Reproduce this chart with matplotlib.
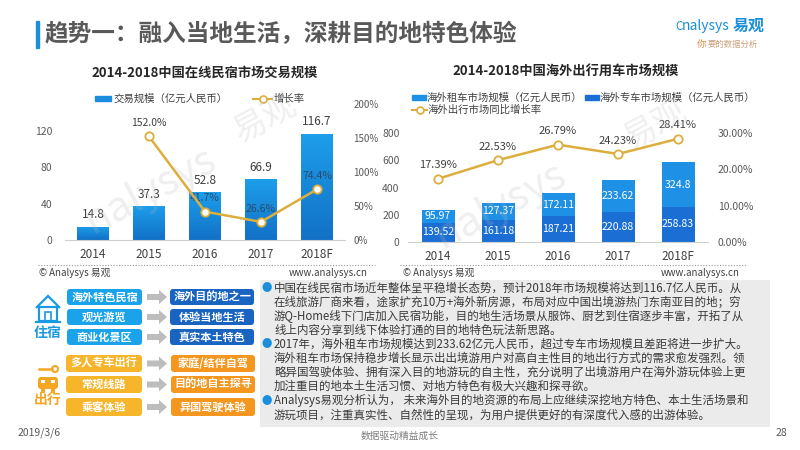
import matplotlib
matplotlib.use('Agg')
import matplotlib.pyplot as plt
import numpy as np
from matplotlib.patches import FancyBboxPatch, Rectangle, Polygon, Circle
from matplotlib.colors import LinearSegmentedColormap

plt.rcParams['font.family'] = ['Noto Sans CJK SC', 'DejaVu Sans']

# ---------------- data ----------------
years = ['2014', '2015', '2016', '2017', '2018F']
homestay_scale = [14.8, 37.3, 52.8, 66.9, 116.7]
homestay_growth = [None, 152.0, 41.7, 26.6, 74.4]
rental_scale = [95.97, 127.37, 172.11, 233.62, 324.8]
chauffeur_scale = [139.52, 161.18, 187.21, 220.88, 258.83]
car_growth = [17.39, 22.53, 26.79, 24.23, 28.41]
rental_labels = ['95.97', '127.37', '172.11', '233.62', '324.8']
chauffeur_labels = ['139.52', '161.18', '187.21', '220.88', '258.83']
left_ticks = [0, 40, 80, 120]
left_rticks = [0, 50, 100, 150, 200]
right_ticks = [0, 200, 400, 600, 800]
right_rticks = [0, 10, 20, 30]

title = '趋势一：融入当地生活，深耕目的地特色体验'
chart1_title = '2014-2018中国在线民宿市场交易规模'
chart2_title = '2014-2018中国海外出行用车市场规模'
stay_left = ['海外特色民宿', '观光游览', '商业化景区']
stay_right = ['海外目的地之一', '体验当地生活', '真实本土特色']
trip_left = ['多人专车出行', '常规线路', '乘客体验']
trip_right = ['家庭/结伴自驾', '目的地自主探寻', '异国驾驶体验']
body_lines = [
    ('●', '中国在线民宿市场近年整体呈平稳增长态势，预计2018年市场规模将达到116.7亿人民币。从'),
    ('', '在线旅游厂商来看，途家扩充10万+海外新房源，布局对应中国出境游热门东南亚目的地；穷'),
    ('', '游Q-Home线下门店加入民宿功能，目的地生活场景从服饰、厨艺到住宿逐步丰富，开拓了从'),
    ('', '线上内容分享到线下体验打通的目的地特色玩法新思路。'),
    ('●', '2017年，海外租车市场规模达到233.62亿元人民币，超过专车市场规模且差距将进一步扩大。'),
    ('', '海外租车市场保持稳步增长显示出出境游用户对高自主性目的地出行方式的需求愈发强烈。领'),
    ('', '略异国驾驶体验、拥有深入目的地游玩的自主性，充分说明了出境游用户在海外游玩体验上更'),
    ('', '加注重目的地本土生活习惯、对地方特色有极大兴趣和探寻欲。'),
    ('●', 'Analysys易观分析认为， 未来海外目的地资源的布局上应继续深挖地方特色、本土生活场景和'),
    ('', '游玩项目，注重真实性、自然性的呈现，为用户提供更好的有深度代入感的出游体验。'),
]

# ---------------- figure ----------------
W, H = 800, 450
fig = plt.figure(figsize=(8, 4.5), dpi=100)


def ax_rect(l, t, r, b):
    return [l / W, 1 - b / H, (r - l) / W, (b - t) / H]


bg = fig.add_axes([0, 0, 1, 1])
bg.set_xlim(0, W)
bg.set_ylim(H, 0)
bg.axis('off')

DARK = '#404040'
GRAY = '#595959'
GOLD = '#dcae3c'
BLUE_L = '#1e90e6'
BLUE_D = '#1b6fd4'

# title
bg.add_patch(Rectangle((36, 21), 3, 27, color='#1a8fdc'))
bg.text(45, 34, title, fontsize=17, fontweight='bold', color=GRAY, va='center')

# logo
bg.text(682, 26, 'nalysys', fontsize=10, style='italic', color='#1a8fdc', va='center')
bg.text(675, 26, 'C', fontsize=8.5, color='#1a8fdc', va='center')
bg.text(733, 26, '易观', fontsize=11.5, fontweight='bold', color='#1a8fdc', va='center')
bg.text(697, 44, '你', fontsize=7, style='italic', color='#e8884a', va='center')
bg.text(708, 44, '要的数据分析', fontsize=6, style='italic', color='#c9a27a', va='center')

# ---------------- chart 1 ----------------
bg.text(205, 73, chart1_title, ha='center', va='center', fontsize=9.5,
        fontweight='bold', color='#262626')
bg.add_patch(Rectangle((95, 96), 16, 5, color='#1a8ddf'))
bg.text(113, 98.5, '交易规模（亿元人民币）', fontsize=7.5, color=DARK, va='center')
bg.plot([253, 272], [98.5, 98.5], color=GOLD, lw=1.5)
bg.plot([262.5], [98.5], 'o', ms=5, mfc='white', mec=GOLD, mew=1.2)
bg.text(274, 98.5, '增长率', fontsize=7.5, color=DARK, va='center')

ax1 = fig.add_axes(ax_rect(65, 103.8, 345, 240))
ax1.patch.set_alpha(0)
x = np.arange(len(years))
bars = ax1.bar(x, homestay_scale, width=0.57, color='#1a8ddf', zorder=2)
cmap = LinearSegmentedColormap.from_list('g', ['#1271c6', '#1d9eea'])
grad = np.linspace(0, 1, 100).reshape(-1, 1)
for b in bars:
    im = ax1.imshow(grad, extent=[b.get_x(), b.get_x() + b.get_width(), 0, b.get_height()],
                    origin='lower', cmap=cmap, aspect='auto', zorder=2.1)
    im.set_clip_path(b)
for i, v in enumerate(homestay_scale):
    ax1.annotate(f'{v}', (i, v), xytext=(0, 4), textcoords='offset points',
                 ha='center', va='bottom', fontsize=8.5, color=DARK)
ax1.set_xlim(-0.5, len(years) - 0.5)
ax1.set_ylim(0, 150)
ax1.set_yticks(left_ticks)
ax1.set_xticks(x)
ax1.set_xticklabels(years)
for s in ['top', 'left', 'right']:
    ax1.spines[s].set_visible(False)
ax1.spines['bottom'].set_color('#d0d0d0')
ax1.tick_params(axis='y', length=0, pad=9, labelsize=7.5, labelcolor=GRAY)
ax1.tick_params(axis='x', length=0, pad=6, labelsize=8.5, labelcolor=DARK)

ax1r = ax1.twinx()
gx = [i for i, g in enumerate(homestay_growth) if g is not None]
gy = [g for g in homestay_growth if g is not None]
ax1r.plot(gx, gy, color=GOLD, lw=1.8, marker='o', ms=6, mfc='white', mec=GOLD,
          mew=1.3, zorder=4)
for i, g in zip(gx, gy):
    ax1r.annotate(f'{g:.1f}%', (i, g), xytext=(0, 6), textcoords='offset points',
                  ha='center', va='bottom', fontsize=7.5,
                  color=DARK if g > 100 else '#2c4a6e')
ax1r.set_ylim(0, 200)
ax1r.set_yticks(left_rticks)
ax1r.set_yticklabels([f'{t}%' for t in left_rticks])
for s in ['top', 'left', 'right', 'bottom']:
    ax1r.spines[s].set_visible(False)
ax1r.tick_params(axis='y', length=0, pad=6, labelsize=7, labelcolor=GRAY)

bg.plot([38, 375], [264.5, 264.5], ls=(0, (1, 1.5)), color='#9a9a9a', lw=0.8)
bg.text(39, 273.5, '© Analysys 易观', fontsize=7, color=DARK, va='center')
bg.text(368, 272.5, 'www.analysys.cn', fontsize=7, color=DARK, va='center', ha='right')

# ---------------- chart 2 ----------------
bg.text(566, 72, chart2_title, ha='center', va='center', fontsize=9.5,
        fontweight='bold', color='#262626')
bg.add_patch(Rectangle((412, 95), 14, 5, color=BLUE_L))
bg.text(427, 97.5, '海外租车市场规模（亿元人民币）', fontsize=7.5, color=DARK, va='center')
bg.add_patch(Rectangle((585, 95), 14, 5, color=BLUE_D))
bg.text(600, 97.5, '海外专车市场规模（亿元人民币）', fontsize=7.5, color=DARK, va='center')
bg.plot([412, 427], [110, 110], color=GOLD, lw=1.5)
bg.plot([419.5], [110], 'o', ms=5, mfc='white', mec=GOLD, mew=1.2)
bg.text(428, 110, '海外出行市场同比增长率', fontsize=7.5, color=DARK, va='center')

ax2 = fig.add_axes(ax_rect(408, 133, 708, 242))
ax2.patch.set_alpha(0)
b_low = ax2.bar(x, chauffeur_scale, width=0.55, color=BLUE_D, zorder=2)
b_up = ax2.bar(x, rental_scale, width=0.55, bottom=chauffeur_scale, color=BLUE_L, zorder=2)
for i in range(len(years)):
    ax2.text(i, chauffeur_scale[i] / 2, chauffeur_labels[i], ha='center',
             va='center', fontsize=7.6, color='white', zorder=3)
    ax2.text(i, chauffeur_scale[i] + rental_scale[i] / 2, rental_labels[i],
             ha='center', va='center', fontsize=7.6, color='white', zorder=3)
ax2.set_xlim(-0.5, len(years) - 0.5)
ax2.set_ylim(0, 800)
ax2.set_yticks(right_ticks)
ax2.set_xticks(x)
ax2.set_xticklabels(years)
for s in ['top', 'left', 'right']:
    ax2.spines[s].set_visible(False)
ax2.spines['bottom'].set_color('#d0d0d0')
ax2.tick_params(axis='y', length=0, pad=6, labelsize=7.5, labelcolor=GRAY)
ax2.tick_params(axis='x', length=0, pad=6, labelsize=8.5, labelcolor=DARK)

ax2r = ax2.twinx()
ax2r.plot(x, car_growth, color=GOLD, lw=1.8, marker='o', ms=6, mfc='white', mec=GOLD,
          mew=1.3, zorder=4)
for i, g in enumerate(car_growth):
    ax2r.annotate(f'{g:.2f}%', (i, g), xytext=(0, 6), textcoords='offset points',
                  ha='center', va='bottom', fontsize=8, color=DARK)
ax2r.set_ylim(0, 30)
ax2r.set_yticks(right_rticks)
ax2r.set_yticklabels([f'{t:.2f}%' for t in right_rticks])
for s in ['top', 'left', 'right', 'bottom']:
    ax2r.spines[s].set_visible(False)
ax2r.tick_params(axis='y', length=0, pad=7, labelsize=7.5, labelcolor=GRAY)

bg.plot([400, 746], [264.5, 264.5], ls=(0, (1, 1.5)), color='#9a9a9a', lw=0.8)
bg.text(403, 272.5, '© Analysys 易观', fontsize=7, color=DARK, va='center')
bg.text(740, 272.5, 'www.analysys.cn', fontsize=7, color=DARK, va='center', ha='right')

# watermarks
for (px, py, txt, fs) in [(150, 190, 'nalysys', 30), (265, 118, '易观', 24),
                          (500, 205, 'nalysys', 30), (655, 125, '易观', 24)]:
    fig.text(px / W, 1 - py / H, txt, fontsize=fs, rotation=28, color='#b8b8b8',
             alpha=0.22, ha='center', va='center', zorder=10)

# ---------------- infographic ----------------
def box(x0, y0, x1, y1, color, txt):
    bg.add_patch(FancyBboxPatch((x0, y0), x1 - x0, y1 - y0,
                                boxstyle='round,pad=0,rounding_size=3',
                                fc=color, ec='none'))
    bg.text((x0 + x1) / 2, (y0 + y1) / 2, txt, ha='center', va='center',
            fontsize=8, fontweight='bold', color='white')


def arrow(y):
    bg.add_patch(Polygon([[147, y - 3], [159, y - 3], [159, y - 7], [167, y],
                          [159, y + 7], [159, y + 3], [147, y + 3]],
                         closed=True, fc='#bdbdbd', ec='none'))


stay_rows = [(289, 305), (309, 325), (329, 345)]
for (t, b_), l, r in zip(stay_rows, stay_left, stay_right):
    box(67, t, 142, b_, '#1aa3ea', l)
    arrow((t + b_) / 2)
    box(170, t, 254, b_, '#1864c0', r)
trip_rows = [(355, 372), (376, 393), (398, 416)]
for (t, b_), l, r in zip(trip_rows, trip_left, trip_right):
    box(66, t, 142, b_, '#f7b52c', l)
    arrow((t + b_) / 2)
    box(171, t, 255, b_, '#f5961f', r)

# house icon
IC = '#1a9ae0'
bg.add_patch(Polygon([[36, 308], [48, 296], [60, 308]], closed=False, fill=False,
                     ec=IC, lw=1.6))
bg.add_patch(Rectangle((39, 307), 18, 14, fill=False, ec=IC, lw=1.6))
bg.add_patch(Rectangle((45, 312), 6, 9, fill=False, ec=IC, lw=1.2))
bg.plot([36, 60], [322, 322], color=IC, lw=1.6)
bg.text(48, 333, '住宿', ha='center', va='center', fontsize=10, fontweight='bold', color=IC)

# car icon
OC = '#f5a623'
bg.plot([39, 52], [369, 369], color=OC, lw=1.8)
bg.add_patch(Circle((55, 369), 3, fill=False, ec=OC, lw=1.5))
bg.add_patch(FancyBboxPatch((38, 377), 20, 12, boxstyle='round,pad=0,rounding_size=3',
                            fc=OC, ec='none'))
bg.add_patch(Rectangle((41, 386), 4, 7, fc=OC, ec='none'))
bg.add_patch(Rectangle((51, 386), 4, 7, fc=OC, ec='none'))
bg.add_patch(Rectangle((41, 380), 4, 3, fc='white', ec='none'))
bg.add_patch(Rectangle((51, 380), 4, 3, fc='white', ec='none'))
bg.text(48, 400, '出行', ha='center', va='center', fontsize=10, fontweight='bold', color=OC)

# text panel
bg.add_patch(Rectangle((260, 280), 510, 147, fc='#ebebeb', ec='none'))
y0, dy = 288, 14.1
for k, (bul, line) in enumerate(body_lines):
    yy = y0 + k * dy
    if bul:
        bg.text(267, yy, bul, ha='center', va='center', fontsize=7.5, color='#1a8fdc')
    bg.text(274, yy, line, ha='left', va='center', fontsize=8.25, color='#3a3a3a')

# footer
bg.text(18, 433, '2019/3/6', fontsize=7.5, color=GRAY, va='center')
bg.text(400, 436, '数据驱动精益成长', fontsize=7, color='#7f7f7f', va='center', ha='center')
bg.text(787, 433, '28', fontsize=7.5, color=GRAY, va='center', ha='right')

fig.savefig('out.png', dpi=100)
